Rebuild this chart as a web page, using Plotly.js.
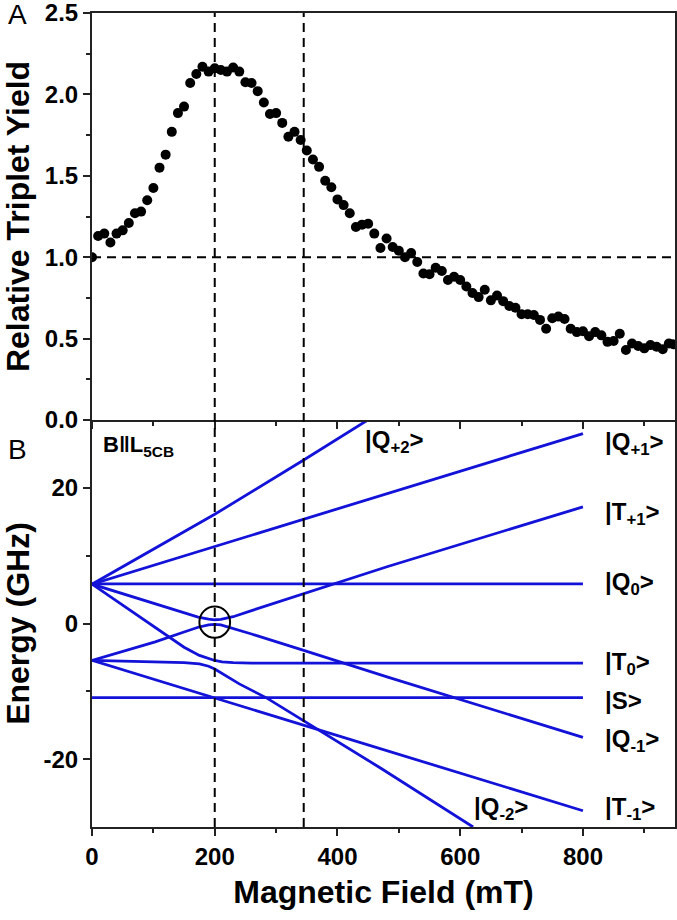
<!DOCTYPE html>
<html>
<head>
<meta charset="utf-8">
<script src="https://cdn.plot.ly/plotly-3.0.1.min.js"></script>
<style>
  body { margin: 0; background: #fff; }
  #chart { width: 677px; height: 920px; }
</style>
</head>
<body>
<div id="chart"></div>
<script>
// panel A: relative triplet yield vs field
var fieldA = [0,10,20,30,40,50,60,70,80,90,100,110,120,130,140,150,160,170,180,190,
  200,210,220,230,240,250,260,270,280,290,300,310,320,330,340,350,360,370,380,390,
  400,410,420,430,440,450,460,470,480,490,500,510,520,530,540,550,560,570,580,590,
  600,610,620,630,640,650,660,670,680,690,700,710,720,730,740,750,760,770,780,790,
  800,810,820,830,840,850,860,870,880,890,900,910,920,930,940,947];
var yieldA = [1.00,1.13,1.145,1.09,1.145,1.165,1.21,1.27,1.28,1.35,1.425,1.55,1.63,1.77,1.885,1.925,2.07,2.125,2.17,2.14,
  2.16,2.15,2.14,2.165,2.14,2.075,2.07,2.02,1.95,1.88,1.885,1.825,1.74,1.77,1.72,1.655,1.60,1.555,1.47,1.43,
  1.355,1.32,1.27,1.185,1.20,1.205,1.145,1.057,1.115,1.063,1.04,1.00,1.026,0.97,0.90,0.895,0.935,0.915,0.86,0.88,
  0.86,0.82,0.78,0.755,0.80,0.735,0.765,0.73,0.70,0.69,0.65,0.65,0.645,0.615,0.56,0.625,0.635,0.62,0.56,0.54,
  0.545,0.515,0.54,0.52,0.48,0.485,0.53,0.43,0.47,0.455,0.44,0.46,0.45,0.435,0.47,0.465];

// panel B: energy levels (GHz) vs field
var fieldQp2 = [0, 100, 200, 345, 460];
var energyQp2 = [5.8, 10.9, 16.1, 24.1, 30.6];
var fieldQp1 = [0, 800];
var energyQp1 = [5.8, 28.0];
var fieldTp1 = [0, 103, 150, 173, 190, 200, 210, 230, 260, 345, 482, 800];
var energyTp1 = [5.8, 2.95, 1.65, 0.95, 0.63, 0.55, 0.62, 1.0, 1.9, 4.37, 8.4, 17.2];
var fieldQ0 = [0, 800];
var energyQ0 = [5.83, 5.83];
var fieldT0 = [0, 50, 103, 150, 175, 190, 200, 212, 230, 260, 800];
var energyT0 = [5.8, 2.7, -0.6, -3.5, -4.7, -5.2, -5.45, -5.65, -5.78, -5.83, -5.83];
var fieldS = [0, 800];
var energyS = [-10.93, -10.93];
var fieldQm1 = [0, 103, 150, 173, 190, 200, 210, 230, 260, 345, 482, 800];
var energyQm1 = [-5.44, -2.7, -1.25, -0.55, -0.2, -0.12, -0.2, -0.7, -1.55, -3.97, -7.9, -16.8];
var fieldQm2 = [0, 100, 150, 175, 190, 200, 215, 240, 285, 363, 470, 621];
var energyQm2 = [-5.44, -5.62, -5.78, -5.95, -6.3, -6.7, -7.5, -8.9, -11.0, -15.3, -21.3, -30];
var fieldTm1 = [0, 800];
var energyTm1 = [-5.44, -27.6];

var stateNames = ["|Q<sub>+2</sub>&gt;", "|Q<sub>+1</sub>&gt;", "|T<sub>+1</sub>&gt;", "|Q<sub>0</sub>&gt;",
  "|T<sub>0</sub>&gt;", "|S&gt;", "|Q<sub>-1</sub>&gt;", "|Q<sub>-2</sub>&gt;", "|T<sub>-1</sub>&gt;"];
var stateLabelX = [441, 833, 833, 833, 833, 833, 833, 620, 833];
var stateLabelY = [26.9, 26.5, 16.2, 5.9, -5.9, -11.3, -17.2, -27.2, -27.2];

var yieldTickVals = [0, 0.5, 1, 1.5, 2, 2.5];
var yieldTickText = ["0.0", "0.5", "1.0", "1.5", "2.0", "2.5"];
var energyTickVals = [-20, 0, 20];
var energyTickText = ["-20", "0", "20"];
var fieldTickVals = [0, 200, 400, 600, 800];
var fieldTickText = ["0", "200", "400", "600", "800"];

var markedFields = [200, 345];

var blue = "#1212d8";
var fontFam = "Liberation Sans, Arial, sans-serif";

function bold(list) {
  return list.map(t => "<b>" + t + "</b>");
}

function level(x, y) {
  return { x: x, y: y, xaxis: "x", yaxis: "y", type: "scatter", mode: "lines",
    line: { color: blue, width: 2.8 }, hoverinfo: "skip" };
}

var data = [
  { x: fieldA, y: yieldA, xaxis: "x2", yaxis: "y2", type: "scatter", mode: "markers",
    marker: { color: "#000", size: 10 } },
  level(fieldQp2, energyQp2),
  level(fieldQp1, energyQp1),
  level(fieldTp1, energyTp1),
  level(fieldQ0, energyQ0),
  level(fieldT0, energyT0),
  level(fieldS, energyS),
  level(fieldQm1, energyQm1),
  level(fieldQm2, energyQm2),
  level(fieldTm1, energyTm1)
];

function axisBase() {
  return { showline: true, linecolor: "#222", linewidth: 2, ticks: "outside",
    ticklen: 7, tickwidth: 2, tickcolor: "#222", showgrid: false, zeroline: false,
    ticklabeloverflow: "allow",
    tickfont: { family: fontFam, size: 24, color: "#000" } };
}

var shapes = [];
markedFields.forEach(function (f) {
  shapes.push({ type: "line", xref: "x", yref: "paper", x0: f, x1: f, y0: 0, y1: 1,
    line: { color: "#000", width: 2, dash: "9px,6px" } });
});
shapes.push({ type: "line", xref: "x2 domain", yref: "y2", x0: 0, x1: 1, y0: 1, y1: 1,
  line: { color: "#000", width: 2, dash: "9px,6px" } });
shapes.push({ type: "circle", xref: "x", yref: "y", x0: 175, x1: 225, y0: -2.1, y1: 2.5,
  line: { color: "#000", width: 2 } });

var annotations = stateNames.map(function (s, i) {
  return { text: "<b>" + s + "</b>", x: stateLabelX[i], y: stateLabelY[i], xref: "x", yref: "y",
    xanchor: "left", yanchor: "middle", showarrow: false,
    font: { family: fontFam, size: 24, color: "#000" } };
});
annotations.push({ text: "<b>B\u2016L<sub>5CB</sub></b>", x: 14, y: 26.2, xref: "x", yref: "y",
  xanchor: "left", yanchor: "middle", showarrow: false,
  font: { family: fontFam, size: 22, color: "#000" } });
annotations.push({ text: "A", x: -0.127, y: 0.998, xref: "paper", yref: "paper",
  xanchor: "center", yanchor: "middle", showarrow: false,
  font: { family: fontFam, size: 28, color: "#000" } });
annotations.push({ text: "B", x: -0.127, y: 0.464, xref: "paper", yref: "paper",
  xanchor: "center", yanchor: "middle", showarrow: false,
  font: { family: fontFam, size: 28, color: "#000" } });

var titleFont = { family: fontFam, size: 32, color: "#000" };

var layout = {
  width: 677, height: 920,
  margin: { l: 92, r: 2, t: 13, b: 93 },
  paper_bgcolor: "#fff", plot_bgcolor: "#fff",
  font: { family: fontFam, color: "#000" },
  showlegend: false,
  xaxis: Object.assign(axisBase(), {
    domain: [0, 1], anchor: "y", range: [0, 950],
    tickmode: "array", tickvals: fieldTickVals, ticktext: bold(fieldTickText),
    minor: { dtick: 100, ticks: "outside", ticklen: 4, tickwidth: 2, tickcolor: "#222" },
    title: { text: "<b>Magnetic Field (mT)</b>", standoff: 12, font: titleFont }
  }),
  yaxis: Object.assign(axisBase(), {
    domain: [0, 0.5], anchor: "x", range: [-30, 30], mirror: true,
    tickmode: "array", tickvals: energyTickVals, ticktext: bold(energyTickText),
    minor: { tickvals: [-10, 10], ticks: "outside", ticklen: 4, tickwidth: 2, tickcolor: "#222" },
    title: { text: "<b>Energy (GHz)</b>", standoff: 6, font: titleFont }
  }),
  xaxis2: Object.assign(axisBase(), {
    domain: [0, 1], anchor: "y2", range: [0, 950],
    tickmode: "array", tickvals: fieldTickVals,
    showticklabels: false, mirror: true,
    minor: { dtick: 100, ticks: "outside", ticklen: 4, tickwidth: 2, tickcolor: "#222" }
  }),
  yaxis2: Object.assign(axisBase(), {
    domain: [0.5, 1], anchor: "x2", range: [0, 2.5],
    tickmode: "array", tickvals: yieldTickVals, ticktext: bold(yieldTickText),
    mirror: true,
    minor: { dtick: 0.25, ticks: "outside", ticklen: 4, tickwidth: 2, tickcolor: "#222" },
    title: { text: "<b>Relative Triplet Yield</b>", standoff: 6, font: titleFont }
  }),
  shapes: shapes,
  annotations: annotations
};

Plotly.newPlot("chart", data, layout, { staticPlot: true });
</script>
</body>
</html>
